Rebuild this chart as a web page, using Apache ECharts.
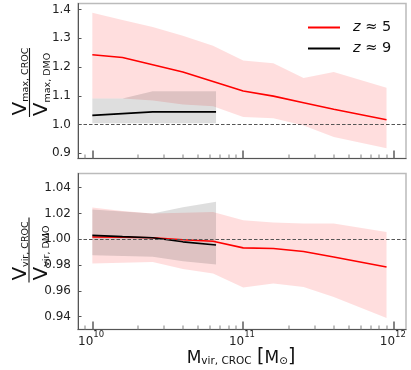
<!DOCTYPE html>
<html>
<head>
<meta charset="utf-8">
<script src="https://cdn.jsdelivr.net/npm/echarts@6/dist/echarts.min.js"></script>
<style>
  html, body { margin: 0; padding: 0; background: #fff; }
  #chart { width: 411px; height: 370px; }
</style>
</head>
<body>
<div id="chart"></div>
<script>
// log10(M_vir,CROC) of the bins
const massZ5 = [10.0, 10.2, 10.4, 10.6, 10.8, 11.0, 11.2, 11.4, 11.6, 11.95];
const massZ9 = [10.0, 10.2, 10.4, 10.6, 10.82];

// Vmax,CROC / Vmax,DMO
const vmaxZ5 = [1.243, 1.233, 1.208, 1.183, 1.150, 1.117, 1.099, 1.076, 1.053, 1.017];
const vmaxZ5Hi = [1.389, 1.364, 1.339, 1.309, 1.274, 1.223, 1.213, 1.162, 1.183, 1.128];
const vmaxZ5Lo = [1.091, 1.091, 1.084, 1.070, 1.064, 1.026, 1.022, 0.997, 0.957, 0.918];
const vmaxZ9 = [1.032, 1.038, 1.044, 1.044, 1.044];
const vmaxZ9Hi = [1.091, 1.091, 1.116, 1.116, 1.116];
const vmaxZ9Lo = [1.005, 1.005, 1.005, 1.005, 1.005];

// Vvir,CROC / Vvir,DMO
const vvirZ5 = [1.0018, 1.0015, 1.0012, 0.9996, 0.9984, 0.9933, 0.9928, 0.9905, 0.9862, 0.9785];
const vvirZ5Hi = [1.0246, 1.0220, 1.0199, 1.0205, 1.0212, 1.0147, 1.0130, 1.0122, 1.0122, 1.0057];
const vvirZ5Lo = [0.9812, 0.9818, 0.9824, 0.9770, 0.9734, 0.9626, 0.9657, 0.9630, 0.9553, 0.9390];
const vvirZ9 = [1.0030, 1.0020, 1.0012, 0.9980, 0.9955];
const vvirZ9Hi = [1.0230, 1.0215, 1.0200, 1.0248, 1.0290];
const vvirZ9Lo = [0.9876, 0.9870, 0.9865, 0.9830, 0.9805];

// ticks (log10 M)
const xMajor = [10, 11, 12];
const xMinor = [];
[9, 10, 11].forEach(function (d) {
  for (let k = 2; k <= 9; k++) xMinor.push(d + Math.log10(k));
});
const vmaxTicks = [0.9, 1.0, 1.1, 1.2, 1.3, 1.4];
const vvirTicks = [0.94, 0.96, 0.98, 1.00, 1.02, 1.04];

const X_MIN = 9.905, X_MAX = 12.079;
const Y_RANGE = [[0.882, 1.421], [0.930, 1.051]];
const RED = '#ff0000', BLACK = '#000000';
const FONT = 'DejaVu Sans';

const chart = echarts.init(document.getElementById('chart'), null, { renderer: 'canvas' });

function pairs(xs, ys) {
  return xs.map(function (x, i) { return [x, ys[i]]; });
}

// shaded band between lo and hi
function band(xs, lo, hi, fill, axis) {
  return {
    type: 'custom',
    xAxisIndex: axis,
    yAxisIndex: axis,
    silent: true,
    z: 1,
    data: [[xs[0], lo[0]]],
    renderItem: function (params, api) {
      const pts = [];
      for (let i = 0; i < xs.length; i++) pts.push(api.coord([xs[i], hi[i]]));
      for (let i = xs.length - 1; i >= 0; i--) pts.push(api.coord([xs[i], lo[i]]));
      return { type: 'polygon', shape: { points: pts }, style: { fill: fill } };
    }
  };
}

function curve(name, xs, ys, color, axis, withRef) {
  const s = {
    name: name,
    type: 'line',
    xAxisIndex: axis,
    yAxisIndex: axis,
    data: pairs(xs, ys),
    symbol: 'none',
    color: color,
    lineStyle: { color: color, width: 1.6 },
    z: 3,
    silent: true
  };
  if (withRef) {
    s.markLine = {
      silent: true,
      symbol: ['none', 'none'],
      label: { show: false },
      lineStyle: { color: '#555', type: [3.5, 2], width: 1 },
      data: [{ yAxis: 1 }],
      z: 4
    };
  }
  return s;
}

// log minor ticks, placed through the axis scale
function minorTicks(axis) {
  const y0 = Y_RANGE[axis][0];
  const vals = xMinor.filter(function (v) { return v > X_MIN && v < X_MAX; });
  return {
    type: 'custom',
    xAxisIndex: axis,
    yAxisIndex: axis,
    silent: true,
    clip: false,
    z: 6,
    data: vals.map(function (v) { return [v, y0]; }),
    renderItem: function (params, api) {
      const p = api.coord([api.value(0), api.value(1)]);
      return {
        type: 'rect',
        shape: { x: Math.round(p[0]) - 0.5, y: p[1] - 4, width: 1, height: 4 },
        style: { fill: '#808080' }
      };
    }
  };
}

// 10^n tick labels under the lower panel
function tickLabels(axis) {
  const y0 = Y_RANGE[axis][0];
  return {
    type: 'custom',
    xAxisIndex: axis,
    yAxisIndex: axis,
    silent: true,
    clip: false,
    z: 6,
    data: xMajor.map(function (v) { return [v, y0]; }),
    renderItem: function (params, api) {
      const p = api.coord([api.value(0), api.value(1)]);
      return {
        type: 'group',
        children: [
          {
            type: 'text',
            x: p[0] + 1,
            y: p[1] + 12,
            style: {
              text: '10', font: '12px "DejaVu Sans"', fill: '#222',
              align: 'right', verticalAlign: 'middle',
              textAlign: 'right', textVerticalAlign: 'middle'
            }
          },
          {
            type: 'text',
            x: p[0] + 1,
            y: p[1] + 5.5,
            style: {
              text: String(Math.round(api.value(0))), font: '8.5px "DejaVu Sans"', fill: '#222',
              align: 'left', verticalAlign: 'middle',
              textAlign: 'left', textVerticalAlign: 'middle'
            }
          }
        ]
      };
    }
  };
}

function xAxis(grid) {
  return {
    type: 'value',
    gridIndex: grid,
    position: 'bottom',
    min: X_MIN,
    max: X_MAX,
    splitLine: { show: false },
    axisLine: { show: true, onZero: false, lineStyle: { color: '#555', width: 1 } },
    axisTick: {
      show: true,
      inside: true,
      length: 8,
      customValues: xMajor,
      lineStyle: { color: '#666', width: 1.6 }
    },
    axisLabel: { show: false, customValues: xMajor }
  };
}

function yAxis(grid, ticks, digits) {
  return {
    type: 'value',
    gridIndex: grid,
    min: Y_RANGE[grid][0],
    max: Y_RANGE[grid][1],
    splitLine: { show: false },
    axisLine: { show: true, onZero: false, lineStyle: { color: '#555', width: 1 } },
    axisTick: { show: true, inside: true, length: 3.5, customValues: ticks, lineStyle: { color: '#555' } },
    axisLabel: {
      customValues: ticks,
      margin: 7,
      fontSize: 12,
      fontFamily: FONT,
      color: '#222',
      formatter: function (v) { return v.toFixed(digits); }
    }
  };
}

const richTitle = {
  v: { fontSize: 20, lineHeight: 22, verticalAlign: 'bottom', fontFamily: FONT, fill: '#111' },
  s: { fontSize: 9.5, lineHeight: 14, verticalAlign: 'bottom', fontFamily: FONT, fill: '#111' }
};

function fracTitle(cx, cy, half, num, den, numOff, denOff) {
  return {
    type: 'group',
    x: cx,
    y: cy,
    rotation: Math.PI / 2,
    silent: true,
    children: [
      { type: 'text', x: numOff, y: 1.5,
        style: { text: num, rich: richTitle, align: 'center', verticalAlign: 'bottom' } },
      { type: 'line', shape: { x1: -half, y1: 0, x2: half, y2: 0 },
        style: { stroke: '#111', lineWidth: 1.1 } },
      { type: 'text', x: denOff, y: 0.7,
        style: { text: den, rich: richTitle, align: 'center', verticalAlign: 'top' } }
    ]
  };
}

const option = {
  animation: false,
  textStyle: { fontFamily: FONT },
  grid: [
    { left: 78, top: 3.5, width: 328, height: 155, show: true, borderColor: '#bbb', borderWidth: 1.5 },
    { left: 78, top: 173.5, width: 328, height: 156, show: true, borderColor: '#bbb', borderWidth: 1.5 }
  ],
  xAxis: [xAxis(0), xAxis(1)],
  yAxis: [yAxis(0, vmaxTicks, 1), yAxis(1, vvirTicks, 2)],
  legend: {
    left: 303,
    top: 15,
    orient: 'vertical',
    itemWidth: 32,
    itemHeight: 2,
    itemGap: 6,
    icon: 'rect',
    data: ['z5', 'z9'],
    formatter: function (name) {
      return '{g|}{i|z}{n| ≈ ' + name.slice(1) + '}';
    },
    textStyle: {
      fontSize: 14,
      color: '#111',
      rich: {
        g: { width: 8 },
        i: { fontSize: 14.5, fontStyle: 'italic', fontFamily: FONT, lineHeight: 18 },
        n: { fontSize: 14.5, fontFamily: FONT, lineHeight: 18 }
      }
    }
  },
  graphic: [
    fracTitle(29.5, 82.5, 34.5, '{v|V}{s|max, CROC}', '{v|V}{s|max, DMO}', 1, -2),
    fracTitle(29, 250, 32.5, '{v|V}{s|vir, CROC}', '{v|V}{s|vir, DMO}', -1, -3),
    {
      type: 'text',
      x: 241,
      y: 356,
      silent: true,
      style: {
        text: '{m|M}{s|vir, CROC}{m| }{br|[}{m|M}{s|⊙}{br|]}',
        align: 'center',
        verticalAlign: 'middle',
        rich: {
          m: { fontSize: 17, lineHeight: 20, verticalAlign: 'bottom', fontFamily: FONT, fill: '#111' },
          s: { fontSize: 10.5, lineHeight: 13, verticalAlign: 'bottom', fontFamily: FONT, fill: '#111' },
          br: { fontSize: 19, lineHeight: 22, verticalAlign: 'bottom', fontFamily: FONT, fill: '#111' }
        }
      }
    }
  ],
  series: [
    band(massZ5, vmaxZ5Lo, vmaxZ5Hi, 'rgba(255,0,0,0.13)', 0),
    band(massZ9, vmaxZ9Lo, vmaxZ9Hi, 'rgba(0,0,0,0.13)', 0),
    curve('z5', massZ5, vmaxZ5, RED, 0, true),
    curve('z9', massZ9, vmaxZ9, BLACK, 0, false),
    band(massZ5, vvirZ5Lo, vvirZ5Hi, 'rgba(255,0,0,0.13)', 1),
    band(massZ9, vvirZ9Lo, vvirZ9Hi, 'rgba(0,0,0,0.13)', 1),
    curve('z5b', massZ5, vvirZ5, RED, 1, true),
    curve('z9b', massZ9, vvirZ9, BLACK, 1, false),
    minorTicks(0),
    minorTicks(1),
    tickLabels(1)
  ]
};

chart.setOption(option);
window.addEventListener('resize', function () { chart.resize(); });
</script>
</body>
</html>
